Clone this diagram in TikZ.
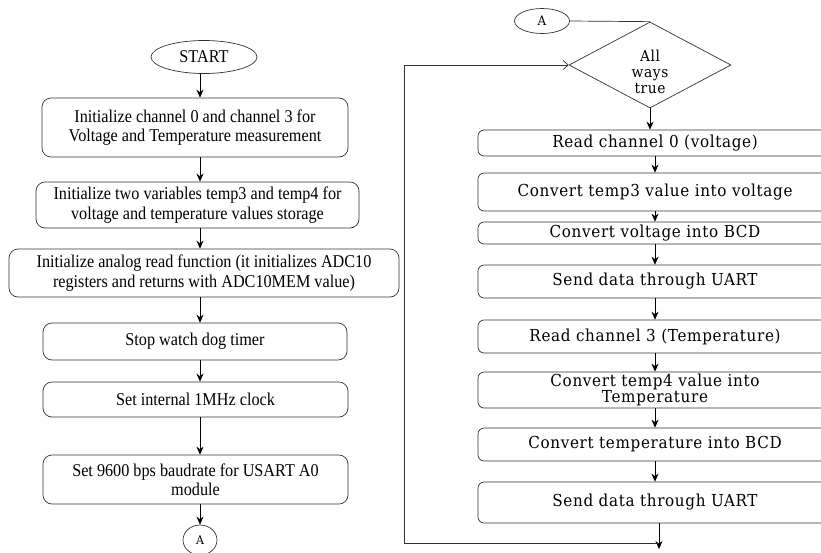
\documentclass[tikz,border=0pt]{standalone}
\usepackage{fontspec}
\setmainfont{Liberation Serif}[FakeStretch=0.9]
\newfontfamily\rfont{DejaVu Serif}[FakeStretch=0.92,LetterSpace=4]
\usetikzlibrary{shapes.geometric,arrows.meta}
\newcommand\myLfont{\fontsize{18}{19.5}\selectfont}
\newcommand\myRfont{\rfont\fontsize{16.5}{16}\selectfont}
\begin{document}
\begin{tikzpicture}[x=1pt,y=-1pt,
  lbox/.style={draw=black!80, line width=0.7pt, rounded corners=9pt, align=center, inner sep=0pt, font=\myLfont},
  rbox/.style={draw=black!80, line width=0.7pt, rounded corners=6pt, align=center, inner sep=0pt, font=\myRfont, minimum width=354pt},
  term/.style={draw=black!80, line width=0.7pt, ellipse, inner sep=0pt},
  arr/.style={-{Stealth[length=8pt,width=7pt]}, line width=0.8pt},
  thin/.style={line width=0.7pt, draw=black!80},
  barb/.style={-{Straight Barb[length=5pt,width=9pt]}, line width=0.7pt, draw=black!80}]
\useasboundingbox (0,0) rectangle (821,552);
\clip (0,0) rectangle (821,552);
\fill[white] (0,0) rectangle (821,552);
% left column
\coordinate (ax) at (200,0);
\node[term, minimum width=106pt, minimum height=33pt, font=\myLfont] (start) at (204,57) {START};
\node[lbox, minimum width=306pt, minimum height=59pt] (b1) at (195,127.5) {Initialize channel 0 and channel 3 for\\Voltage and Temperature measurement};
\node[lbox, minimum width=323pt, minimum height=46pt] (b2) at (197.5,205) {Initialize two variables temp3 and temp4 for\\voltage and temperature values storage};
\node[lbox, minimum width=390pt, minimum height=48pt] (b3) at (204,273) {Initialize analog read function (it initializes ADC10\\registers and returns with ADC10MEM value)};
\node[lbox, minimum width=304pt, minimum height=37pt] (b4) at (195,341.5) {Stop watch dog timer};
\node[lbox, minimum width=305pt, minimum height=35pt] (b5) at (195.5,399.5) {Set internal 1MHz clock};
\node[lbox, minimum width=305pt, minimum height=49pt] (b6) at (195.5,479.5) {Set 9600 bps baudrate for USART A0\\module};
\node[term, minimum width=34pt, minimum height=30pt, font=\rfont\fontsize{12}{12}\selectfont] (a1) at (200,540) {A};
\draw[arr] (start.south -| ax) -- (b1.north -| ax);
\draw[arr] (b1.south -| ax) -- (b2.north -| ax);
\draw[arr] (b2.south -| ax) -- (b3.north -| ax);
\draw[arr] (b3.south -| ax) -- (b4.north -| ax);
\draw[arr] (b4.south -| ax) -- (b5.north -| ax);
\draw[arr] (b5.south -| ax) -- (b6.north -| ax);
\draw[arr] (b6.south -| ax) -- (a1.north);
% right column
\coordinate (rx) at (655,0);
\node[term, minimum width=55pt, minimum height=25pt, font=\rfont\fontsize{13}{13}\selectfont] (a2) at (542,21) {A};
\node[draw=black!80, line width=0.7pt, diamond, minimum width=162pt, minimum height=86pt, inner sep=0pt] (dia) at (650,65) {};
\node[font=\rfont\fontsize{15}{16}\selectfont, align=center, inner sep=0pt] (diat) at (650,72) {All\\ways\\true};
\draw[thin] (a2.east) -- (dia.north);
\node[rbox, minimum height=26pt] (r1) at (655,143) {Read channel 0 (voltage)};
\node[rbox, minimum height=38pt] (r2) at (655,192) {Convert temp3 value into voltage};
\node[rbox, minimum height=22pt] (r3) at (655,233) {Convert voltage into BCD};
\node[rbox, minimum height=33pt] (r4) at (655,281.5) {Send data through UART};
\node[rbox, minimum height=33pt] (r5) at (655,336.5) {Read channel 3 (Temperature)};
\node[rbox, minimum height=36pt] (r6) at (655,390) {Convert temp4 value into\\Temperature};
\node[rbox, minimum height=33pt] (r7) at (655,444.5) {Convert temperature into BCD};
\node[rbox, minimum height=41pt] (r8) at (655,502.5) {Send data through UART};
\draw[arr] (dia.south) -- (r1.north -| dia.south);
\draw[arr] (r1.south -| rx) -- (r2.north -| rx);
\draw[arr] (r2.south -| rx) -- (r3.north -| rx);
\draw[arr] (r3.south -| rx) -- (r4.north -| rx);
\draw[arr] (r4.south -| rx) -- (r5.north -| rx);
\draw[arr] (r5.south -| rx) -- (r6.north -| rx);
\draw[arr] (r6.south -| rx) -- (r7.north -| rx);
\draw[arr] (r7.south -| rx) -- (r8.north -| rx);
% loop back
\coordinate (lj) at (659,543);
\coordinate (lc) at (404,543);
\coordinate (lend) at (659,549);
\draw[arr] (r8.south -| lj) -- (lend);
\draw[barb] (lj) -- (lc) |- (dia.west);
\end{tikzpicture}
\end{document}
